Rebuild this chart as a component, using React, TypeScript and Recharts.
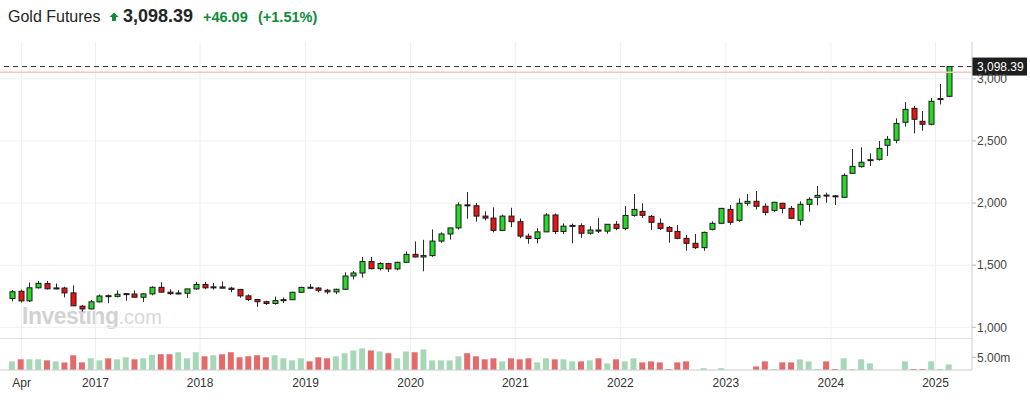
import React from 'react';
import { ComposedChart, BarChart, Bar, XAxis, YAxis, CartesianGrid, ReferenceLine, Cell } from 'recharts';

const months = [
  'Apr 2016','May 2016','Jun 2016','Jul 2016','Aug 2016','Sep 2016','Oct 2016','Nov 2016','Dec 2016',
  'Jan 2017','Feb 2017','Mar 2017','Apr 2017','May 2017','Jun 2017','Jul 2017','Aug 2017','Sep 2017','Oct 2017','Nov 2017','Dec 2017',
  'Jan 2018','Feb 2018','Mar 2018','Apr 2018','May 2018','Jun 2018','Jul 2018','Aug 2018','Sep 2018','Oct 2018','Nov 2018','Dec 2018',
  'Jan 2019','Feb 2019','Mar 2019','Apr 2019','May 2019','Jun 2019','Jul 2019','Aug 2019','Sep 2019','Oct 2019','Nov 2019','Dec 2019',
  'Jan 2020','Feb 2020','Mar 2020','Apr 2020','May 2020','Jun 2020','Jul 2020','Aug 2020','Sep 2020','Oct 2020','Nov 2020','Dec 2020',
  'Jan 2021','Feb 2021','Mar 2021','Apr 2021','May 2021','Jun 2021','Jul 2021','Aug 2021','Sep 2021','Oct 2021','Nov 2021','Dec 2021',
  'Jan 2022','Feb 2022','Mar 2022','Apr 2022','May 2022','Jun 2022','Jul 2022','Aug 2022','Sep 2022','Oct 2022','Nov 2022','Dec 2022',
  'Jan 2023','Feb 2023','Mar 2023','Apr 2023','May 2023','Jun 2023','Jul 2023','Aug 2023','Sep 2023','Oct 2023','Nov 2023','Dec 2023',
  'Jan 2024','Feb 2024','Mar 2024','Apr 2024','May 2024','Jun 2024','Jul 2024','Aug 2024','Sep 2024','Oct 2024','Nov 2024','Dec 2024',
  'Jan 2025','Feb 2025','Mar 2025',
];

const opens = [
  1232,1290,1213,1318,1352,1310,1316,1277,1170,1148,
  1205,1252,1249,1266,1268,1242,1269,1322,1283,1271,
  1274,1309,1345,1318,1325,1315,1305,1253,1224,1206,
  1192,1215,1222,1282,1321,1316,1298,1285,1306,1413,
  1437,1529,1472,1513,1470,1523,1587,1566,1577,1694,
  1751,1800,1985,1978,1895,1879,1780,1895,1850,1734,
  1715,1768,1904,1771,1814,1818,1757,1783,1774,1829,
  1796,1901,1933,1893,1837,1804,1772,1716,1676,1641,
  1788,1837,1949,1861,1998,2014,1974,1941,1998,1957,
  1861,1990,2046,2062,2056,2046,2239,2293,2344,2352,
  2465,2505,2650,2762,2658,2634,2835,2859,
];

const highs = [
  1300,1303,1360,1372,1373,1352,1326,1337,1180,1220,
  1264,1264,1297,1272,1298,1275,1330,1362,1306,1299,
  1309,1366,1365,1356,1369,1326,1309,1265,1227,1214,
  1247,1240,1287,1326,1349,1324,1309,1311,1443,1453,
  1566,1566,1523,1519,1528,1611,1691,1704,1788,1765,
  1802,2005,2089,2001,1933,1965,1907,1962,1875,1755,
  1798,1919,1916,1836,1834,1836,1814,1878,1831,1855,
  1976,2073,1998,1904,1877,1815,1823,1743,1751,1770,
  1853,1962,1984,2038,2073,2097,1998,2010,2003,1976,
  2014,2046,2137,2083,2065,2239,2435,2448,2400,2499,
  2540,2682,2813,2781,2741,2845,2958,3100,
];

const lows = [
  1209,1199,1203,1312,1305,1305,1241,1171,1127,1144,
  1200,1194,1241,1214,1242,1204,1258,1281,1260,1264,
  1236,1302,1307,1303,1312,1282,1238,1211,1165,1180,
  1182,1196,1221,1277,1311,1281,1267,1267,1301,1385,
  1400,1465,1458,1445,1459,1520,1562,1451,1567,1680,
  1706,1785,1874,1851,1860,1764,1775,1806,1717,1673,
  1677,1767,1750,1750,1677,1721,1746,1759,1753,1781,
  1781,1890,1880,1783,1783,1681,1709,1617,1630,1616,
  1780,1830,1825,1850,1979,1949,1901,1930,1917,1870,
  1821,1931,1982,2003,1984,2040,2234,2285,2298,2341,
  2379,2481,2615,2561,2582,2625,2794,2852,
];

const closes = [
  1286,1213,1318,1354,1310,1316,1277,1173,1148,1205,
  1252,1249,1266,1268,1242,1269,1322,1283,1271,1274,
  1309,1345,1318,1325,1315,1305,1253,1224,1206,1192,
  1215,1222,1282,1321,1316,1298,1285,1306,1413,1437,
  1529,1472,1513,1470,1523,1587,1566,1577,1694,1751,
  1800,1985,1978,1895,1879,1780,1895,1850,1734,1715,
  1768,1904,1771,1814,1818,1757,1783,1774,1829,1796,
  1900,1949,1901,1845,1796,1772,1716,1676,1641,1764,
  1837,1957,1845,1998,2014,1974,1925,2006,1957,1877,
  1990,2030,2062,2058,2052,2223,2295,2328,2346,2440,
  2513,2641,2754,2674,2634,2819,2838,3098.39,
];

// monthly volume, millions of contracts
const volumes = [
  3.4,4.2,4.2,4.2,3.8,3.4,3.0,5.8,3.0,4.6,
  3.8,4.6,4.2,5.0,4.2,4.6,6.0,6.2,6.2,7.0,
  4.6,7.0,5.4,5.8,6.2,7.0,5.0,5.4,5.8,5.0,
  5.8,4.6,3.8,4.6,3.4,5.0,4.6,5.4,6.6,7.7,
  8.5,7.7,7.3,6.6,4.6,7.3,7.0,8.1,3.8,3.8,
  3.8,5.4,6.6,5.4,4.2,4.6,3.4,4.6,4.2,4.6,
  3.0,4.6,4.2,4.2,3.4,3.4,3.8,4.6,2.6,4.2,
  3.4,4.6,3.0,3.4,3.0,0.4,3.0,3.4,0,0.7,
  0,0.7,0,0,0,1.4,3.4,0.4,3.0,3.0,
  4.2,3.4,0.4,3.4,0.4,4.6,0.4,4.2,2.6,0,
  0,0,3.4,0.4,0.4,3.4,0.4,2.2,
];

const priceTicks = [1000, 1500, 2000, 2500, 3000];
const timeTicks = [1.07, 9.5, 21.45, 33.5, 45.5, 57.45, 69.45, 81.5, 93.5, 105.45];
const timeTickLabels = ['Apr', '2017', '2018', '2019', '2020', '2021', '2022', '2023', '2024', '2025'];
const volumeTicks = [5];
const volumeTickLabels = ['5.00m'];

const title = 'Gold Futures';
const lastPrice = 3098.39;
const change = 46.09;
const changePct = 1.51;
const prevClose = 3052.3;

const X_DOMAIN: [number, number] = [-1.405, 109.62];
const PRICE_DOMAIN: [number, number] = [914, 3296];
const VOL_DOMAIN: [number, number] = [0, 12.6];

const UP = '#27d827';
const DOWN = '#ec1212';
const VOL_UP = '#a6d8b8';
const VOL_DOWN = '#e36b6b';
const HEAD_GREEN = '#0f8b3b';
const FONT = 'Arial, "Liberation Sans", Helvetica, sans-serif';

const data = months.map((m, i) => ({
  i,
  m,
  o: opens[i],
  h: highs[i],
  l: lows[i],
  c: closes[i],
  range: [lows[i], highs[i]],
  v: volumes[i],
}));

const fmt = (v: number, d = 0) =>
  v.toLocaleString('en-US', { minimumFractionDigits: d, maximumFractionDigits: d });

const Candle = (props: any) => {
  const { x, y, width, height, payload } = props;
  if (!payload || x == null || y == null) return null;
  const { o, h, l, c } = payload;
  const top = Math.min(y, y + height);
  const bot = Math.max(y, y + height);
  const span = h - l || 1;
  const py = (v: number) => top + ((h - v) / span) * (bot - top);
  const cx = Math.round(x + width / 2) + 0.5;
  const yo = py(o);
  const yc = py(c);
  let bt = Math.min(yo, yc);
  let bb = Math.max(yo, yc);
  if (bb - bt < 1) {
    const mid = (bt + bb) / 2;
    bt = mid - 0.5;
    bb = mid + 0.5;
  }
  const up = c >= o;
  return (
    <g>
      <line x1={cx} x2={cx} y1={top} y2={bot} stroke="#2a2a2a" strokeWidth={1} />
      <rect
        x={cx - 2.5}
        y={bt}
        width={5}
        height={bb - bt}
        fill={up ? UP : DOWN}
        stroke="#1a1a1a"
        strokeWidth={1}
      />
    </g>
  );
};

const PriceTag = (props: any) => {
  const vb = props.viewBox || {};
  const x = (vb.x || 0) + (vb.width || 0);
  const y = vb.y || 0;
  return (
    <g>
      <rect x={x} y={y - 9} width={55} height={18} fill="#1e1e1e" />
      <text x={x + 5} y={y + 4.5} fill="#ffffff" fontSize={12} fontFamily={FONT}>
        {fmt(lastPrice, 2)}
      </text>
    </g>
  );
};

export default function App() {
  return (
    <div
      style={{
        position: 'absolute',
        left: 0,
        top: 0,
        width: 1030,
        height: 405,
        background: '#ffffff',
        fontFamily: FONT,
        overflow: 'hidden',
      }}
    >
      <svg width={1030} height={405} style={{ position: 'absolute', left: 0, top: 0 }}>
        <text x={8} y={21.5} fontSize={16} fill="#232526" fontFamily={FONT}>
          {title}
        </text>
        <path d="M109.5 17 L114 12.5 L118.5 17 L116 17 L116 21 L112 21 L112 17 Z" fill={HEAD_GREEN} />
        <text x={123} y={21.5} fontSize={18} fontWeight="bold" fill="#232526" fontFamily={FONT}>
          {fmt(lastPrice, 2)}
        </text>
        <text x={203} y={21.5} fontSize={14.5} fontWeight="bold" fill={HEAD_GREEN} fontFamily={FONT}>
          {'+' + fmt(change, 2)}
        </text>
        <text x={258} y={21.5} fontSize={14.5} fontWeight="bold" fill={HEAD_GREEN} fontFamily={FONT}>
          {'(+' + fmt(changePct, 2) + '%)'}
        </text>
        <text x={22} y={324} fontSize={23} fontWeight="bold" fill="#d2d2d2" letterSpacing={-0.5} fontFamily={FONT}>
          Investing
          <tspan fontWeight="normal" fontSize={20} fill="#d9d9d9" letterSpacing={0}>
            .com
          </tspan>
        </text>
      </svg>

      <div style={{ position: 'absolute', left: 0, top: 0 }}>
        <ComposedChart width={1030} height={338} data={data} margin={{ top: 42, right: 0, bottom: 0, left: 0 }}>
          <CartesianGrid stroke="#efefef" horizontalValues={priceTicks} verticalValues={timeTicks} />
          <XAxis dataKey="i" type="number" domain={X_DOMAIN} ticks={timeTicks} allowDataOverflow hide interval={0} />
          <YAxis
            orientation="right"
            width={58}
            domain={PRICE_DOMAIN}
            ticks={priceTicks}
            interval={0}
            allowDataOverflow
            tickFormatter={(v: number) => fmt(v)}
            tick={{ fill: '#444', fontSize: 12 }}
            tickSize={4}
            tickMargin={1}
            axisLine={{ stroke: '#cccccc' }}
            tickLine={{ stroke: '#bbbbbb' }}
          />
          <Bar dataKey="range" barSize={6} shape={Candle} isAnimationActive={false} />
          <ReferenceLine y={prevClose} stroke="#f6c4c4" strokeWidth={1.5} />
          <ReferenceLine y={lastPrice} stroke="#333" strokeDasharray="5 4" label={PriceTag} />
        </ComposedChart>
      </div>

      <div style={{ position: 'absolute', left: 0, top: 338 }}>
        <BarChart width={1030} height={67} data={data} margin={{ top: 0, right: 0, bottom: 0, left: 0 }}>
          <CartesianGrid stroke="#efefef" horizontal={false} verticalValues={timeTicks} />
          <XAxis
            dataKey="i"
            type="number"
            domain={X_DOMAIN}
            ticks={timeTicks}
            interval={0}
            allowDataOverflow
            height={35}
            tickFormatter={(v: number) => timeTickLabels[timeTicks.indexOf(v)] ?? ''}
            tick={{ fill: '#333', fontSize: 12 }}
            tickLine={false}
            tickSize={6}
            tickMargin={2}
            axisLine={{ stroke: '#cccccc' }}
          />
          <YAxis
            orientation="right"
            width={58}
            domain={VOL_DOMAIN}
            ticks={volumeTicks}
            interval={0}
            allowDataOverflow
            tickFormatter={(v: number) => volumeTickLabels[volumeTicks.indexOf(v)] ?? ''}
            tick={{ fill: '#444', fontSize: 12 }}
            tickSize={4}
            tickMargin={1}
            axisLine={{ stroke: '#cccccc' }}
            tickLine={{ stroke: '#bbbbbb' }}
          />
          <ReferenceLine y={VOL_DOMAIN[1]} stroke="#c4c4c4" />
          <Bar dataKey="v" barSize={6} isAnimationActive={false}>
            {data.map((d, i) => (
              <Cell key={i} fill={d.c >= d.o ? VOL_UP : VOL_DOWN} />
            ))}
          </Bar>
        </BarChart>
      </div>
    </div>
  );
}
